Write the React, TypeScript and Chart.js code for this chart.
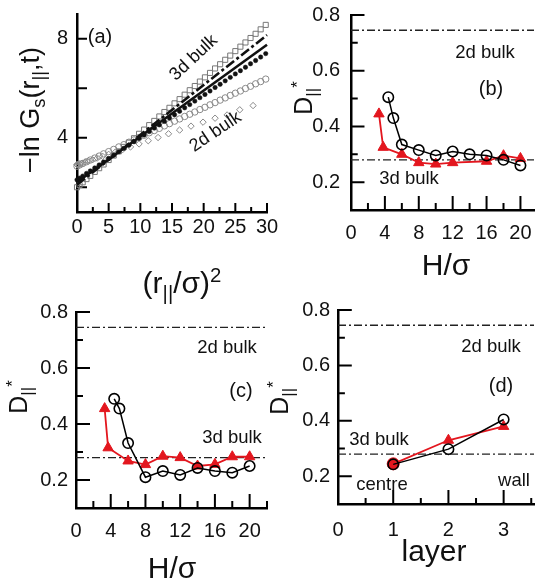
import React, { useEffect, useRef } from "react";
import { Chart, registerables } from "chart.js";

Chart.register(...registerables);

const FONT = "'Liberation Sans', Arial, Helvetica, sans-serif";

// ---------------- Panel (a) data ----------------
const aGridX = [0, 0.4, 0.9, 1.5, 2.1, 2.8, 3.5, 4.2, 5.0, 5.8, 6.6, 7.4, 8.2, 9.0, 9.8, 10.6, 11.4, 12.2, 13.0, 13.8, 14.6, 15.4, 16.2, 17.0, 17.8, 18.6, 19.4, 20.2, 21.0, 21.8, 22.6, 23.4, 24.2, 25.0, 25.8, 26.6, 27.4, 28.2, 29.0, 29.8];
const aSquaresY = [2.0, 2.09, 2.2, 2.33, 2.46, 2.62, 2.77, 2.92, 3.1, 3.28, 3.45, 3.63, 3.8, 3.98, 4.16, 4.33, 4.51, 4.68, 4.86, 5.04, 5.21, 5.39, 5.56, 5.74, 5.92, 6.09, 6.27, 6.44, 6.62, 6.8, 6.97, 7.15, 7.32, 7.5, 7.68, 7.85, 8.03, 8.2, 8.38, 8.56];
const aDotsY = [2.3, 2.37, 2.45, 2.56, 2.66, 2.78, 2.9, 3.02, 3.16, 3.29, 3.43, 3.57, 3.7, 3.84, 3.98, 4.11, 4.25, 4.39, 4.52, 4.66, 4.8, 4.93, 5.07, 5.21, 5.34, 5.48, 5.62, 5.75, 5.89, 6.03, 6.16, 6.3, 6.44, 6.58, 6.71, 6.85, 6.99, 7.12, 7.26, 7.4];
const aCirclesY = [2.85, 2.9, 2.96, 3.03, 3.1, 3.18, 3.26, 3.35, 3.44, 3.53, 3.63, 3.72, 3.82, 3.91, 4.01, 4.1, 4.2, 4.29, 4.38, 4.48, 4.57, 4.67, 4.76, 4.86, 4.95, 5.04, 5.14, 5.23, 5.33, 5.42, 5.52, 5.61, 5.71, 5.8, 5.89, 5.99, 6.08, 6.18, 6.27, 6.37];
const aDiamondX = [0, 0.05, 0.2, 0.45, 0.8, 1.25, 1.8, 2.45, 3.2, 4.05, 5.0, 6.05, 7.2, 8.45, 9.8, 11.25, 12.8, 14.45, 16.2, 18.0, 19.9, 21.8, 23.7, 25.7, 27.8];
const aDiamondY = [2.92, 2.9, 2.93, 2.95, 2.97, 3.01, 3.06, 3.11, 3.18, 3.25, 3.33, 3.42, 3.52, 3.63, 3.75, 3.88, 4.01, 4.16, 4.31, 4.47, 4.63, 4.79, 4.92, 5.13, 5.3];
const aSolidX = [0, 30];
const aSolidY = [2.2, 7.76];
const aDashX = [0, 30];
const aDashY = [2.1, 8.15];
const aXLabels = [0, 5, 10, 15, 20, 25, 30];
const aXMajor = [5, 10, 15, 20, 25, 30];
const aXMinor = [2.5, 7.5, 12.5, 17.5, 22.5, 27.5];
const aYLabels = [4, 8];
const aYMajor = [2, 4, 6, 8];

// ---------------- Panels (b)-(d) data ----------------
const bulk2d = 0.745;
const bulk3d = 0.28;
const dYLabels = [0.2, 0.4, 0.6, 0.8];
const dYMinor = [0.3, 0.5, 0.7];
const hXLabels = [0, 4, 8, 12, 16, 20];
const hXMajor = [4, 8, 12, 16, 20];
const hXMinorB = [2, 6, 10, 14, 18];
const hXMinorC = [2, 6, 10, 14, 18, 22];

const bCircX = [4.4, 5, 6, 8, 10, 12, 14, 16, 18, 20];
const bCircY = [0.505, 0.43, 0.335, 0.315, 0.296, 0.31, 0.3, 0.296, 0.28, 0.26];
const bTriX = [3.3, 3.8, 6, 8, 10, 12, 16, 18, 20];
const bTriY = [0.445, 0.325, 0.3, 0.27, 0.265, 0.27, 0.275, 0.295, 0.285];

const cCircX = [4.4, 5, 6, 8, 10, 12, 14, 16, 18, 20];
const cCircY = [0.49, 0.455, 0.332, 0.21, 0.232, 0.218, 0.243, 0.232, 0.226, 0.25];
const cTriX = [3.3, 3.7, 6, 8, 10, 12, 14, 16, 18, 20];
const cTriY = [0.455, 0.315, 0.268, 0.255, 0.285, 0.28, 0.25, 0.256, 0.283, 0.283];

const dLayers = [1, 2, 3];
const dCircY = [0.243, 0.298, 0.405];
const dRedY = [0.245, 0.33, 0.38];
const dRedStyles = ["circle", "triangle", "triangle"];
const dXLabels = [0, 1, 2, 3];
const dXMajor = [1, 2, 3];
const dXMinor = [0.5, 1.5, 2.5, 3.5];

const RED = "#e3161e";

function pts(xs: number[], ys: number[]) {
  return xs.map((x, i) => ({ x, y: ys[i] }));
}

// Inward tick marks as one broken line dataset; lengths given in pixels are
// converted to data units from the panel's plot-area size.
function tickDataset(p: any) {
  const plotW = p.w - p.y.size - p.padRight;
  const plotH = p.h - p.padTop - p.x.size;
  const ux = (p.x.max - p.x.min) / plotW;
  const uy = (p.y.max - p.y.min) / plotH;
  const t = p.tickSpec;
  const data: any[] = [];
  const addX = (vals: number[], len: number) =>
    vals.forEach((v) => {
      data.push({ x: v, y: p.y.min }, { x: v, y: p.y.min + len * uy }, { x: v, y: null });
    });
  const addY = (vals: number[], len: number) =>
    vals.forEach((v) => {
      data.push({ x: p.x.min, y: v }, { x: p.x.min + len * ux, y: v }, { x: p.x.min, y: null });
    });
  addX(t.xMajor, t.xMajorLen);
  addX(t.xMinor, t.xMinorLen);
  addY(t.yMajor, t.yMajorLen);
  addY(t.yMinor, t.yMinorLen);
  return {
    data,
    showLine: true,
    spanGaps: false,
    pointRadius: 0,
    borderColor: "#000",
    borderWidth: 2,
    borderCapStyle: "butt",
    clip: false,
  };
}

function axis(kind: "x" | "y", a: any) {
  return {
    type: "linear",
    position: kind === "x" ? "bottom" : "left",
    min: a.min,
    max: a.max,
    grid: { display: false, drawTicks: false },
    border: { display: true, color: "#000", width: 2.5 },
    ticks: {
      color: "#111",
      font: { size: 20, family: FONT },
      padding: a.pad,
      autoSkip: false,
      maxRotation: 0,
      callback: (v: number) => a.fmt(v),
    },
    afterBuildTicks: (s: any) => {
      s.ticks = a.labels.map((v: number) => ({ value: v }));
    },
    afterFit: (s: any) => {
      if (kind === "x") s.height = a.size;
      else s.width = a.size;
      s.paddingLeft = 0;
      s.paddingRight = 0;
      s.paddingTop = 0;
      s.paddingBottom = 0;
    },
  };
}

function makeConfig(p: any) {
  return {
    type: "scatter",
    data: { datasets: [...p.datasets, tickDataset(p)] },
    options: {
      responsive: false,
      maintainAspectRatio: false,
      animation: false,
      devicePixelRatio: 1,
      layout: { padding: { top: p.padTop, right: p.padRight, bottom: 0, left: 0 } },
      plugins: { legend: { display: false }, tooltip: { enabled: false } },
      scales: { x: axis("x", p.x), y: axis("y", p.y) },
    },
  };
}

const fmtInt = (v: number) => String(v);
const fmt1 = (v: number) => v.toFixed(1);

function bulkLines(xmax: number) {
  const common = {
    showLine: true,
    pointRadius: 0,
    borderColor: "#222",
    borderWidth: 1.4,
    borderDash: [8, 3, 2, 3],
    clip: false,
  };
  return [
    { ...common, data: pts([0, xmax], [bulk2d, bulk2d]) },
    { ...common, data: pts([0, xmax], [bulk3d, bulk3d]) },
  ];
}

function circleSeries(xs: number[], ys: number[]) {
  return {
    data: pts(xs, ys),
    showLine: true,
    borderColor: "#000",
    borderWidth: 1.5,
    pointStyle: "circle",
    pointRadius: 5.2,
    pointBorderWidth: 1.6,
    pointBorderColor: "#000",
    pointBackgroundColor: "rgba(0,0,0,0)",
    clip: false,
  };
}

function redSeries(xs: number[], ys: number[], style: any = "triangle") {
  return {
    data: pts(xs, ys),
    showLine: true,
    borderColor: RED,
    borderWidth: 1.8,
    pointStyle: style,
    pointRadius: 6,
    pointBorderWidth: 1,
    pointBorderColor: RED,
    pointBackgroundColor: RED,
    clip: false,
  };
}

const dYAxis = (pad: number, size: number) => ({ min: 0.1, max: 0.8, labels: dYLabels, fmt: fmt1, pad, size });

const configA = () =>
  makeConfig({
    w: 280,
    h: 290,
    padTop: 14,
    padRight: 13,
    x: { min: 0, max: 30, labels: aXLabels, fmt: fmtInt, pad: 3, size: 78 },
    y: { min: 1, max: 9, labels: aYLabels, fmt: fmtInt, pad: 9, size: 77 },
    tickSpec: { xMajor: aXMajor, xMajorLen: 9, xMinor: aXMinor, xMinorLen: 5, yMajor: aYMajor, yMajorLen: 10, yMinor: [], yMinorLen: 0 },
    datasets: [
      { data: pts(aDashX, aDashY), showLine: true, pointRadius: 0, borderColor: "#111", borderWidth: 2.6, borderDash: [10, 3, 3, 3], clip: false },
      { data: pts(aSolidX, aSolidY), showLine: true, pointRadius: 0, borderColor: "#111", borderWidth: 2.6, clip: false },
      { data: pts(aGridX, aDotsY), pointStyle: "circle", pointRadius: 2.2, pointBorderWidth: 0.5, pointBorderColor: "#111", pointBackgroundColor: "#111", clip: false },
      { data: pts(aGridX, aSquaresY), pointStyle: "rect", pointRadius: 3.6, pointBorderWidth: 1, pointBorderColor: "#777", pointBackgroundColor: "rgba(255,255,255,0)", clip: false },
      { data: pts(aGridX, aCirclesY), pointStyle: "circle", pointRadius: 3.2, pointBorderWidth: 1, pointBorderColor: "#8a8a8a", pointBackgroundColor: "rgba(255,255,255,0)", clip: false },
      { data: pts(aDiamondX, aDiamondY), pointStyle: "rectRot", pointRadius: 3.2, pointBorderWidth: 1, pointBorderColor: "#8a8a8a", pointBackgroundColor: "rgba(255,255,255,0)", clip: false },
    ],
  });

const configB = () =>
  makeConfig({
    w: 261,
    h: 290,
    padTop: 15,
    padRight: 0,
    x: { min: 0, max: 21.6, labels: hXLabels, fmt: fmtInt, pad: 11, size: 80 },
    y: dYAxis(11, 71),
    tickSpec: { xMajor: hXMajor, xMajorLen: 14, xMinor: hXMinorB, xMinorLen: 7, yMajor: dYLabels, yMajorLen: 14, yMinor: dYMinor, yMinorLen: 7 },
    datasets: [circleSeries(bCircX, bCircY), redSeries(bTriX, bTriY), ...bulkLines(21.6)],
  });

const configC = () =>
  makeConfig({
    w: 280,
    h: 290,
    padTop: 22,
    padRight: 13,
    x: { min: 0, max: 22, labels: hXLabels, fmt: fmtInt, pad: 11, size: 72 },
    y: dYAxis(8, 76),
    tickSpec: { xMajor: hXMajor, xMajorLen: 14, xMinor: hXMinorC, xMinorLen: 7, yMajor: dYLabels, yMajorLen: 14, yMinor: dYMinor, yMinorLen: 7 },
    datasets: [circleSeries(cCircX, cCircY), redSeries(cTriX, cTriY), ...bulkLines(22)],
  });

const configD = () =>
  makeConfig({
    w: 261,
    h: 290,
    padTop: 20,
    padRight: 4,
    x: { min: 0, max: 3.55, labels: dXLabels, fmt: fmtInt, pad: 14, size: 76 },
    y: dYAxis(8, 58),
    tickSpec: { xMajor: dXMajor, xMajorLen: 14, xMinor: dXMinor, xMinorLen: 6, yMajor: dYLabels, yMajorLen: 14, yMinor: dYMinor, yMinorLen: 7 },
    datasets: [circleSeries(dLayers, dCircY), redSeries(dLayers, dRedY, dRedStyles), ...bulkLines(3.55)],
  });

function Panel({ left, top, width, height, config }: any) {
  const ref = useRef<HTMLCanvasElement | null>(null);
  useEffect(() => {
    const ch = new Chart(ref.current as HTMLCanvasElement, config() as any);
    return () => ch.destroy();
  }, []);
  return <canvas ref={ref} width={width} height={height} style={{ position: "absolute", left, top, width, height }} />;
}

const subStyle: React.CSSProperties = { fontSize: "0.68em", position: "relative", top: "0.35em" };
const supStyle: React.CSSProperties = { fontSize: "0.68em", position: "relative", top: "-0.55em" };

function Txt({ x, y, size = 18, rot = 0, children }: any) {
  return (
    <div
      style={{
        position: "absolute",
        left: x,
        top: y,
        transform: `translate(-50%, -50%) rotate(${rot}deg)`,
        fontFamily: FONT,
        fontSize: size,
        lineHeight: 1,
        color: "#111",
        whiteSpace: "nowrap",
        pointerEvents: "none",
      }}
    >
      {children}
    </div>
  );
}

const Dpar = () => (
  <>
    D<span style={subStyle}>||</span>
    <span style={supStyle}>*</span>
  </>
);

export default function App() {
  return (
    <div style={{ position: "absolute", left: 0, top: 0, width: 541, height: 580, background: "#fff", overflow: "hidden" }}>
      <Panel left={0} top={0} width={280} height={290} config={configA} />
      <Panel left={280} top={0} width={261} height={290} config={configB} />
      <Panel left={0} top={290} width={280} height={290} config={configC} />
      <Panel left={280} top={290} width={261} height={290} config={configD} />

      {/* panel (a) texts */}
      <Txt x={30} y={110} size={27} rot={-90}>
        −ln G<span style={subStyle}>s</span>(r<span style={subStyle}>||</span>,t)
      </Txt>
      <Txt x={182} y={283} size={30}>
        (r<span style={subStyle}>||</span>/σ)<span style={supStyle}>2</span>
      </Txt>
      <Txt x={100} y={36} size={20}>(a)</Txt>
      <Txt x={193} y={57} size={18} rot={-43}>3d bulk</Txt>
      <Txt x={215} y={131} size={18} rot={-34}>2d bulk</Txt>

      {/* panel (b) texts */}
      <Txt x={303} y={98} size={25} rot={-90}><Dpar /></Txt>
      <Txt x={446} y={265} size={30}>H/σ</Txt>
      <Txt x={485} y={52} size={18.5}>2d bulk</Txt>
      <Txt x={491} y={88} size={20}>(b)</Txt>
      <Txt x={409} y={178} size={18.5}>3d bulk</Txt>

      {/* panel (c) texts */}
      <Txt x={18} y={397} size={25} rot={-90}><Dpar /></Txt>
      <Txt x={172} y={568} size={30}>H/σ</Txt>
      <Txt x={227} y={347} size={18.5}>2d bulk</Txt>
      <Txt x={241} y={390} size={20}>(c)</Txt>
      <Txt x={232} y={437} size={18.5}>3d bulk</Txt>

      {/* panel (d) texts */}
      <Txt x={279} y={398} size={25} rot={-90}><Dpar /></Txt>
      <Txt x={434} y={551} size={30}>layer</Txt>
      <Txt x={491} y={346} size={18.5}>2d bulk</Txt>
      <Txt x={501} y={385} size={20}>(d)</Txt>
      <Txt x={379} y={439} size={18.5}>3d bulk</Txt>
      <Txt x={382} y={484} size={18.5}>centre</Txt>
      <Txt x={514} y={480} size={18.5}>wall</Txt>
    </div>
  );
}
